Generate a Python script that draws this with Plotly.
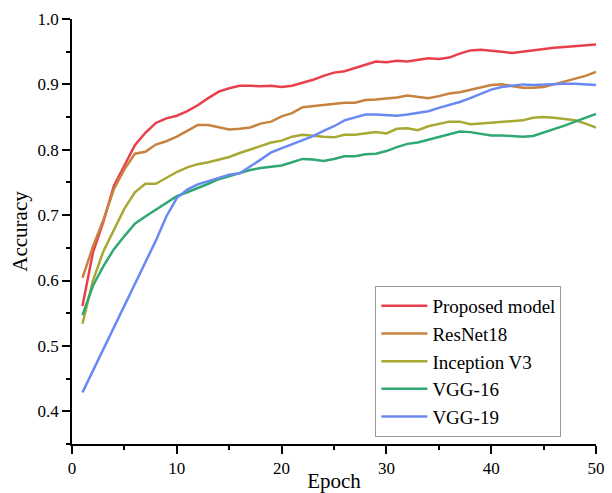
import plotly.graph_objects as go

epochs = list(range(1, 51))

proposed = [0.561, 0.643, 0.690, 0.745, 0.776, 0.807, 0.826, 0.841, 0.848, 0.852,
            0.859, 0.868, 0.879, 0.889, 0.894, 0.898, 0.898, 0.897, 0.898, 0.896,
            0.898, 0.902, 0.907, 0.913, 0.918, 0.920, 0.925, 0.931, 0.935, 0.934,
            0.936, 0.935, 0.938, 0.940, 0.939, 0.941, 0.947, 0.952, 0.953, 0.952,
            0.950, 0.948, 0.950, 0.953, 0.955, 0.956, 0.957, 0.958, 0.960, 0.961]

resnet18 = [0.604, 0.652, 0.693, 0.740, 0.770, 0.794, 0.797, 0.808, 0.813, 0.820,
            0.829, 0.838, 0.838, 0.835, 0.831, 0.832, 0.834, 0.840, 0.843, 0.851,
            0.856, 0.865, 0.867, 0.869, 0.870, 0.872, 0.872, 0.876, 0.877, 0.878,
            0.880, 0.883, 0.881, 0.879, 0.882, 0.886, 0.888, 0.892, 0.896, 0.899,
            0.900, 0.897, 0.895, 0.895, 0.896, 0.900, 0.904, 0.908, 0.913, 0.919]

inception_v3 = [0.534, 0.600, 0.645, 0.678, 0.710, 0.735, 0.748, 0.748, 0.757, 0.766,
                0.773, 0.778, 0.781, 0.785, 0.789, 0.795, 0.800, 0.806, 0.811, 0.814,
                0.820, 0.823, 0.821, 0.820, 0.819, 0.823, 0.823, 0.825, 0.827, 0.825,
                0.832, 0.833, 0.830, 0.836, 0.840, 0.843, 0.843, 0.839, 0.840, 0.841,
                0.842, 0.844, 0.845, 0.849, 0.850, 0.849, 0.847, 0.845, 0.840, 0.834]

vgg16 = [0.547, 0.592, 0.622, 0.648, 0.668, 0.687, 0.698, 0.708, 0.719, 0.729,
         0.735, 0.741, 0.748, 0.755, 0.760, 0.765, 0.769, 0.772, 0.774, 0.776,
         0.781, 0.786, 0.785, 0.783, 0.786, 0.790, 0.790, 0.793, 0.794, 0.798,
         0.804, 0.809, 0.811, 0.815, 0.820, 0.824, 0.828, 0.827, 0.825, 0.822,
         0.822, 0.821, 0.820, 0.821, 0.826, 0.831, 0.837, 0.843, 0.849, 0.855]

vgg19 = [0.429, 0.462, 0.495, 0.528, 0.561, 0.594, 0.627, 0.661, 0.698, 0.726,
         0.739, 0.747, 0.752, 0.757, 0.762, 0.764, 0.774, 0.785, 0.796, 0.802,
         0.808, 0.814, 0.821, 0.829, 0.836, 0.845, 0.849, 0.854, 0.854, 0.853,
         0.852, 0.854, 0.856, 0.859, 0.864, 0.868, 0.873, 0.879, 0.886, 0.892,
         0.896, 0.898, 0.900, 0.899, 0.900, 0.900, 0.901, 0.901, 0.900, 0.899]

series_names = ["Proposed model", "ResNet18", "Inception V3", "VGG-16", "VGG-19"]
series_values = [proposed, resnet18, inception_v3, vgg16, vgg19]
series_colors = ["#E8404A", "#C8823F", "#A8A834", "#30A874", "#6A8AF2"]

x_ticks = [0, 10, 20, 30, 40, 50]
y_ticks = [0.4, 0.5, 0.6, 0.7, 0.8, 0.9, 1.0]

FONT = "Liberation Serif, Times New Roman, serif"

fig = go.Figure()
for name, vals, col in zip(series_names, series_values, series_colors):
    fig.add_trace(go.Scatter(x=epochs, y=vals, mode="lines", name=name,
                             line=dict(color=col, width=2.5)))

fig.update_layout(
    width=612, height=493,
    margin=dict(l=72, r=16, t=19, b=49),
    paper_bgcolor="white", plot_bgcolor="white",
    font=dict(family=FONT, color="black", size=17),
    showlegend=True,
    legend=dict(x=0.579, y=0.372, xanchor="left", yanchor="top",
                bgcolor="white", bordercolor="#9a9a9a", borderwidth=1,
                font=dict(family=FONT, size=19, color="black"),
                tracegroupgap=0, itemwidth=46),
)

fig.update_xaxes(
    range=[0, 50], tickvals=x_ticks, ticktext=[str(v) for v in x_ticks],
    showline=True, linecolor="black", linewidth=1.5, mirror=False,
    ticks="outside", ticklen=8, tickwidth=1.5, tickcolor="black",
    minor=dict(dtick=5, tick0=0, ticks="outside", ticklen=4, tickwidth=1.5, tickcolor="black"),
    showgrid=False, zeroline=False,
    tickfont=dict(family=FONT, size=17),
    title=dict(text="Epoch", font=dict(family=FONT, size=21), standoff=0),
    automargin=False,
)
fig.update_yaxes(
    range=[0.35, 1.0], tickvals=y_ticks, ticktext=[f"{v:.1f}" for v in y_ticks],
    showline=True, linecolor="black", linewidth=1.5, mirror=False,
    ticks="outside", ticklen=8, tickwidth=1.5, tickcolor="black",
    minor=dict(dtick=0.05, tick0=0.35, ticks="outside", ticklen=4, tickwidth=1.5, tickcolor="black"),
    showgrid=False, zeroline=False,
    tickfont=dict(family=FONT, size=17),
    title=dict(text="Accuracy", font=dict(family=FONT, size=21), standoff=4),
    automargin=False,
)

fig.write_html("out.html",
               config={"displayModeBar": False},
               post_script="document.body.style.margin='0';document.body.style.padding='0';")
